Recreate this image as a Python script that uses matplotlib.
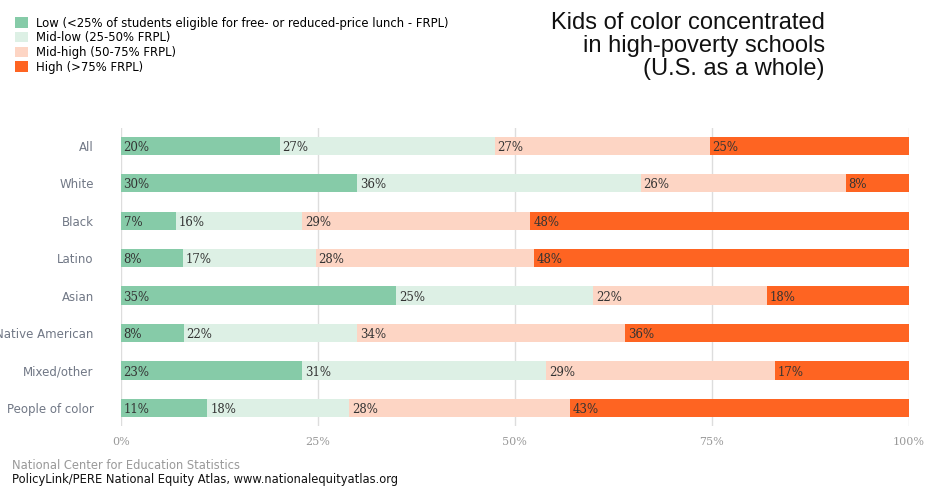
import matplotlib.pyplot as plt
import numpy as np

groups = ["All", "White", "Black", "Latino", "Asian", "Native American",
          "Mixed/other", "People of color"]
low = [20, 30, 7, 8, 35, 8, 23, 11]
mid_low = [27, 36, 16, 17, 25, 22, 31, 18]
mid_high = [27, 26, 29, 28, 22, 34, 29, 28]
high = [25, 8, 48, 48, 18, 36, 17, 43]

series_names = ["Low (<25% of students eligible for free- or reduced-price lunch - FRPL)",
                "Mid-low (25-50% FRPL)",
                "Mid-high (50-75% FRPL)",
                "High (>75% FRPL)"]
colors = ["#86cba8", "#ddf0e5", "#fdd5c4", "#fe6422"]

ticks = [0, 25, 50, 75, 100]
tick_labels = ["0%", "25%", "50%", "75%", "100%"]

data = np.array([low, mid_low, mid_high, high], dtype=float)
shares = data / data.sum(axis=0) * 100  # bars fill to 100%

fig = plt.figure(figsize=(9.29, 4.86), dpi=100)
ax = fig.add_axes([0.130, 0.1235, 0.848, 0.6135])

y = np.arange(len(groups))
left = np.zeros(len(groups))
handles = []
for k in range(4):
    bars = ax.barh(y, shares[k], left=left, height=0.49, color=colors[k],
                   zorder=2, label=series_names[k])
    handles.append(bars)
    for i in range(len(groups)):
        ax.text(left[i] + 0.35, y[i] + 0.04, f"{int(data[k][i])}%",
                ha="left", va="center", fontsize=8.5, family="DejaVu Serif",
                color="#333333", zorder=3)
    left += shares[k]

ax.set_xlim(0, 100)
ax.set_ylim(7.48, -0.48)
ax.set_yticks(y)
ax.set_yticklabels(groups, fontsize=8.5, color="#707785")
ax.set_xticks(ticks)
ax.set_xticklabels(tick_labels, fontsize=8, family="DejaVu Serif", color="#999999")
ax.tick_params(length=0)
ax.tick_params(axis="y", pad=19.5)
ax.tick_params(axis="x", pad=8)
for s in ax.spines.values():
    s.set_visible(False)
ax.grid(axis="x", color="#dddddd", linewidth=1, zorder=0)
ax.set_axisbelow(True)

fig.legend(handles=handles, loc="upper left", bbox_to_anchor=(0.006, 0.985),
           frameon=False, fontsize=8.4, handlelength=1.1, handleheight=1.0,
           handletextpad=0.7, labelspacing=0.14, borderpad=0.3)

fig.text(0.888, 0.975, "Kids of color concentrated\nin high-poverty schools\n(U.S. as a whole)",
         ha="right", va="top", fontsize=17, family="Liberation Sans",
         color="#111111", linespacing=1.06)

fig.text(0.013, 0.043, "National Center for Education Statistics",
         ha="left", va="center", fontsize=8.3, color="#999999")
fig.text(0.013, 0.014, "PolicyLink/PERE National Equity Atlas, www.nationalequityatlas.org",
         ha="left", va="center", fontsize=8.3, color="#111111")

fig.savefig("out.png", dpi=100)
